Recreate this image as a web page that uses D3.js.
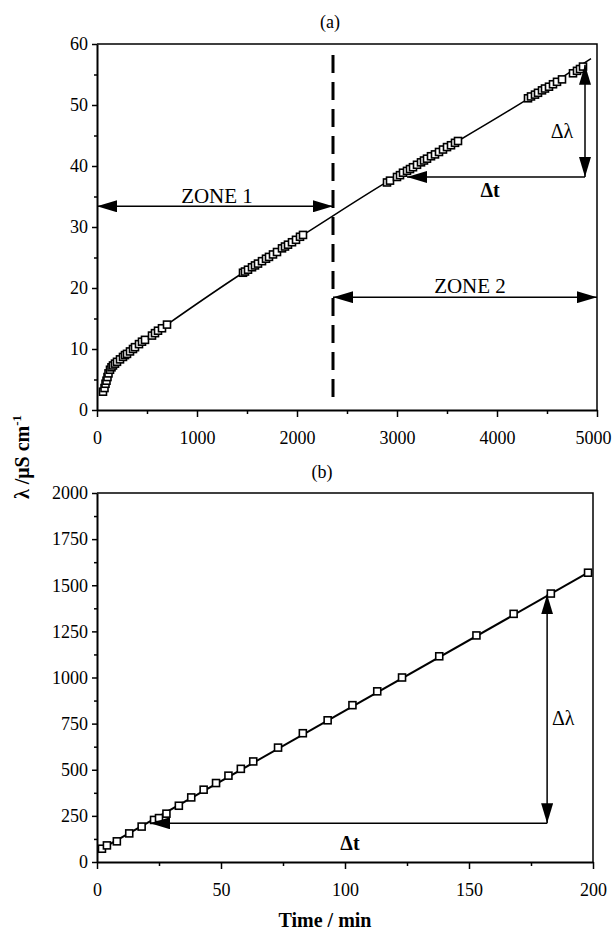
<!DOCTYPE html>
<html>
<head>
<meta charset="utf-8">
<script src="https://cdn.jsdelivr.net/npm/d3@7"></script>
<style>
    body { margin: 0; background: #fff; }
    svg { display: block; }
</style>
</head>
<body>
<div id="chart"></div>
<script>
// panel (a): long run, λ vs time
const aTime = [60, 75, 85, 95, 105, 115, 130, 145, 160, 180, 200, 230, 260, 280, 300, 330, 360, 380, 420, 450, 480, 550, 580, 610, 650, 700,
    1460, 1480, 1510, 1550, 1580, 1610, 1650, 1690, 1720, 1760, 1800, 1850, 1880, 1910, 1950, 1990, 2030, 2060,
    2900, 2930, 3000, 3030, 3060, 3100, 3130, 3160, 3200, 3240, 3270, 3300, 3340, 3380, 3420, 3460, 3500, 3540, 3580, 3610,
    4310, 4340, 4380, 4410, 4450, 4480, 4520, 4560, 4600, 4650, 4760, 4800, 4830, 4860];
const aCond = [3.0, 3.6, 4.3, 4.8, 5.4, 6.0, 6.6, 7.0, 7.3, 7.6, 7.9, 8.3, 8.7, 9.0, 9.2, 9.6, 10.0, 10.3, 10.8, 11.2, 11.5, 12.2, 12.6, 13.0, 13.4, 14.0,
    22.5, 22.7, 23.0, 23.4, 23.7, 24.0, 24.4, 24.8, 25.1, 25.5, 25.9, 26.5, 26.8, 27.1, 27.5, 27.9, 28.4, 28.7,
    37.3, 37.6, 38.2, 38.5, 38.9, 39.2, 39.5, 39.8, 40.2, 40.6, 40.9, 41.2, 41.6, 41.9, 42.3, 42.7, 43.1, 43.4, 43.8, 44.1,
    51.1, 51.4, 51.7, 52.0, 52.4, 52.7, 53.0, 53.4, 53.8, 54.2, 55.2, 55.6, 55.9, 56.3];
// vertices of the drawn trend curve
const aLineT = [50, 70, 100, 150, 200, 300, 450, 700, 1460, 2060, 2900, 3610, 4310, 4940];
const aLineL = [2.6, 3.5, 5.1, 6.9, 7.8, 9.1, 11.1, 14.0, 22.5, 28.7, 37.4, 44.1, 51.0, 57.6];
const aXTicks = [0, 1000, 2000, 3000, 4000, 5000];
const aXMinor = [500, 1500, 2500, 3500, 4500];
const aYTicks = [0, 10, 20, 30, 40, 50, 60];
const aYMinor = [5, 15, 25, 35, 45, 55];

// panel (b): short run
const bTime = [2, 4, 8, 13, 18, 23, 25, 28, 33, 38, 43, 48, 53, 58, 63, 73, 83, 93, 103, 113, 123, 138, 153, 168, 183, 198];
const bCond = [72, 90, 112, 155, 192, 228, 238, 262, 305, 350, 392, 428, 468, 505, 545, 620, 698, 768, 850, 925, 1000, 1115, 1228, 1345, 1455, 1568];
const bLineT = [2, 198];
const bLineL = [72, 1568];
const bXTicks = [0, 50, 100, 150, 200];
const bXMinor = [25, 75, 125, 175];
const bYTicks = [0, 250, 500, 750, 1000, 1250, 1500, 1750, 2000];
const bYMinor = [125, 375, 625, 875, 1125, 1375, 1625, 1875];

const font = "'Liberation Serif', 'Times New Roman', serif";
const width = 612, height = 932;

const svg = d3.select("#chart")
    .append("svg")
    .attr("width", width)
    .attr("height", height)
    .attr("font-family", font);

svg.append("defs")
    .append("marker")
    .attr("id", "head")
    .attr("viewBox", "0 0 20 12")
    .attr("markerUnits", "userSpaceOnUse")
    .attr("markerWidth", 20)
    .attr("markerHeight", 12)
    .attr("refX", 20)
    .attr("refY", 6)
    .attr("orient", "auto-start-reverse")
    .append("path")
    .attr("d", "M0,0 L20,6 L0,12 Z")
    .attr("fill", "#000");

function panel(o) {
    const x = d3.scaleLinear().domain(o.xDomain).range([o.left, o.right]);
    const y = d3.scaleLinear().domain(o.yDomain).range([o.bottom, o.top]);
    const g = svg.append("g");

    // frame: top and right
    g.append("path")
        .attr("d", `M${o.left},${o.top} H${o.right} V${o.bottom}`)
        .attr("fill", "none")
        .attr("stroke", "#000")
        .attr("stroke-width", 1.5);

    const style = sel => {
        sel.attr("font-family", font).attr("font-size", 18);
        sel.select(".domain").attr("stroke-width", 2);
        sel.selectAll(".tick line").attr("stroke-width", 1.5);
    };
    g.append("g")
        .attr("transform", `translate(0,${o.bottom})`)
        .call(d3.axisBottom(x).tickValues(o.xTicks).tickSize(7).tickSizeOuter(0).tickPadding(14).tickFormat(d3.format("d")))
        .call(style)
        // keep the last label inside the page
        .call(s => s.selectAll(".tick text").filter(d => x(d) + 20 > width).attr("dx", width - 19 - o.right));
    g.append("g")
        .attr("transform", `translate(0,${o.bottom})`)
        .call(d3.axisBottom(x).tickValues(o.xMinor).tickSize(4).tickFormat(""))
        .call(s => s.select(".domain").remove())
        .call(style);
    g.append("g")
        .attr("transform", `translate(${o.left},0)`)
        .call(d3.axisLeft(y).tickValues(o.yTicks).tickSize(5).tickSizeOuter(0).tickPadding(4).tickFormat(d3.format("d")))
        .call(style);
    g.append("g")
        .attr("transform", `translate(${o.left},0)`)
        .call(d3.axisLeft(y).tickValues(o.yMinor).tickSize(3).tickFormat(""))
        .call(s => s.select(".domain").remove())
        .call(style);

    g.append("path")
        .datum(d3.zip(o.lineT, o.lineL))
        .attr("d", d3.line().x(d => x(d[0])).y(d => y(d[1])).curve(d3.curveMonotoneX))
        .attr("fill", "none")
        .attr("stroke", "#000")
        .attr("stroke-width", o.lineWidth);

    const s = o.size;
    g.append("g")
        .selectAll("rect")
        .data(d3.zip(o.time, o.cond))
        .join("rect")
        .attr("x", d => x(d[0]) - s / 2)
        .attr("y", d => y(d[1]) - s / 2)
        .attr("width", s)
        .attr("height", s)
        .attr("fill", "#fff")
        .attr("stroke", "#000")
        .attr("stroke-width", 1.6);

    g.append("text")
        .text(o.label)
        .attr("x", o.labelPos[0])
        .attr("y", o.labelPos[1])
        .attr("text-anchor", "middle")
        .attr("font-size", 18);

    return { x, y, g };
}

function arrow(g, x1, y1, x2, y2, both) {
    const l = g.append("line")
        .attr("x1", x1).attr("y1", y1)
        .attr("x2", x2).attr("y2", y2)
        .attr("stroke", "#000")
        .attr("stroke-width", 1.5)
        .attr("marker-end", "url(#head)");
    if (both) l.attr("marker-start", "url(#head)");
}

function note(g, txt, px, py, size, bold) {
    g.append("text")
        .text(txt)
        .attr("x", px)
        .attr("y", py)
        .attr("text-anchor", "middle")
        .attr("font-size", size)
        .attr("font-weight", bold ? "bold" : "normal");
}

// ---- (a)
const A = panel({
    xDomain: [0, 5000], yDomain: [0, 60],
    left: 97, right: 597, top: 44, bottom: 410,
    xTicks: aXTicks, xMinor: aXMinor, yTicks: aYTicks, yMinor: aYMinor,
    time: aTime, cond: aCond, lineT: aLineT, lineL: aLineL,
    lineWidth: 1.5, size: 7,
    label: "(a)", labelPos: [330, 28]
});
const zoneEdge = 2360;
A.g.append("line")
    .attr("x1", A.x(zoneEdge)).attr("x2", A.x(zoneEdge))
    .attr("y1", A.y(58.2)).attr("y2", A.y(1.3))
    .attr("stroke", "#000")
    .attr("stroke-width", 3)
    .attr("stroke-dasharray", "18,9");
arrow(A.g, A.x(0), A.y(33.4), A.x(zoneEdge), A.y(33.4), true);
note(A.g, "ZONE 1", A.x(1200), A.y(33.9), 21);
arrow(A.g, A.x(zoneEdge), A.y(18.5), A.x(5000), A.y(18.5), true);
note(A.g, "ZONE 2", A.x(3730), A.y(19.1), 21);
arrow(A.g, A.x(4880), A.y(38.2), A.x(4880), A.y(56.6), true);
arrow(A.g, A.x(4880), A.y(38.2), A.x(3100), A.y(38.2), false);
note(A.g, "Δλ", A.x(4650), A.y(44.6), 20);
note(A.g, "Δt", A.x(3930), A.y(34.9), 20, true);

// ---- (b)
const B = panel({
    xDomain: [0, 200], yDomain: [0, 2000],
    left: 97, right: 593, top: 493, bottom: 862,
    xTicks: bXTicks, xMinor: bXMinor, yTicks: bYTicks, yMinor: bYMinor,
    time: bTime, cond: bCond, lineT: bLineT, lineL: bLineL,
    lineWidth: 2, size: 7,
    label: "(b)", labelPos: [322, 478]
});
arrow(B.g, B.x(181.5), B.y(210), B.x(181.5), B.y(1450), true);
arrow(B.g, B.x(181.5), B.y(210), B.x(21.4), B.y(210), false);
note(B.g, "Δλ", B.x(188), B.y(742), 20);
note(B.g, "Δt", B.x(102), B.y(65), 20, true);

// shared axis titles
svg.append("text")
    .attr("transform", "translate(29,457) rotate(-90)")
    .attr("text-anchor", "middle")
    .attr("font-size", 20)
    .attr("font-weight", "bold")
    .call(t => {
        t.append("tspan").text("λ /μS cm");
        t.append("tspan").text("-1").attr("font-size", 13).attr("dy", -8);
    });
svg.append("text")
    .text("Time / min")
    .attr("x", 325)
    .attr("y", 927)
    .attr("text-anchor", "middle")
    .attr("font-size", 20)
    .attr("font-weight", "bold");
</script>
</body>
</html>
